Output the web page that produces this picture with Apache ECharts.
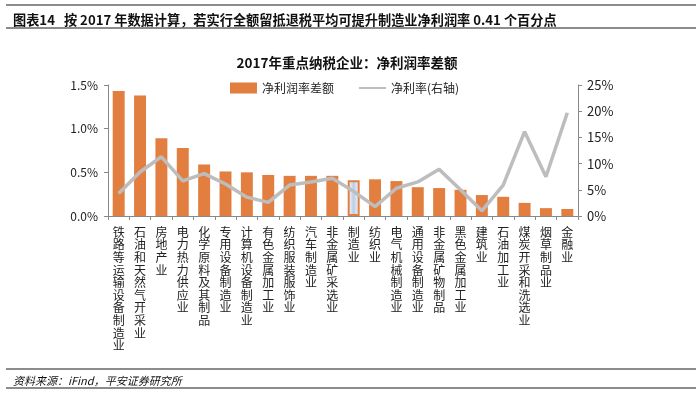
<!DOCTYPE html>
<html><head><meta charset="utf-8">
<script src="https://cdn.jsdelivr.net/npm/echarts@6/dist/echarts.min.js"></script>
<style>html,body{margin:0;padding:0;background:#fff}#c{width:700px;height:393px}</style>
</head><body><div id="c"></div>
<script>
const categories = ['铁路等运输设备制造业','石油和天然气开采业','房地产业','电力热力供应业','化学原料及其制品','专用设备制造业','计算机设备制造业','有色金属加工业','纺织服装服饰业','汽车制造业','非金属矿采选业','制造业','纺织业','电气机械制造业','通用设备制造业','非金属矿物制品','黑色金属加工业','建筑业','石油加工业','煤炭开采和洗选业','烟草制品业','金融业'];
const spreadValues = [1.43,1.38,0.89,0.78,0.59,0.51,0.50,0.47,0.46,0.46,0.46,0.41,0.42,0.40,0.33,0.32,0.30,0.24,0.22,0.15,0.09,0.08];
const netMarginValues = [4.3,8.4,11.3,6.7,8.1,6.1,3.6,2.6,5.9,6.5,7.2,4.7,1.8,5.3,6.5,8.9,5.0,1.0,5.9,16.1,7.5,19.7];
const leftTicks = [0,0.5,1.0,1.5];
const rightTicks = [0,5,10,15,20,25];
const highlightCategory = '制造业';

const FONT = '"Noto Sans CJK SC", "Noto Sans", sans-serif';
const chart = echarts.init(document.getElementById('c'), null, {renderer:'canvas'});
const barData = spreadValues.map((v,i)=> categories[i]===highlightCategory ? {
  value: v,
  itemStyle: {
    color: new echarts.graphic.LinearGradient(0,0,1,0,[{offset:0,color:'#ffffff'},{offset:0.5,color:'#b9cde6'},{offset:1,color:'#ffffff'}]),
    borderColor: '#E27F40', borderWidth: 2
  }
} : v);

chart.setOption({
  animation:false,
  textStyle:{fontFamily:FONT},
  title:[
    {text:'图表14   按 2017 年数据计算，若实行全额留抵退税平均可提升制造业净利润率 0.41 个百分点', left:8, top:8,
      textStyle:{fontSize:13.2, fontWeight:'bold', color:'#111', fontFamily:FONT}},
    {text:'2017年重点纳税企业：净利润率差额', left:342, textAlign:'center', top:51,
      textStyle:{fontSize:13.5, fontWeight:'bold', color:'#111', fontFamily:FONT}},
    {text:'资料来源：iFind，平安证券研究所', left:8, top:370,
      textStyle:{fontSize:11, fontWeight:'normal', fontStyle:'italic', color:'#111', fontFamily:FONT}}
  ],
  graphic:[
    {type:'line', shape:{x1:6,y1:5,x2:696,y2:5}, style:{stroke:'#666', lineWidth:1.5}},
    {type:'line', shape:{x1:6,y1:28,x2:696,y2:28}, style:{stroke:'#666', lineWidth:1.5}},
    {type:'line', shape:{x1:6,y1:369,x2:696,y2:369}, style:{stroke:'#666', lineWidth:1.5}},
    {type:'line', shape:{x1:6,y1:388,x2:696,y2:388}, style:{stroke:'#666', lineWidth:1.5}}
  ],
  legend:{
    top:77, left:225, itemGap:24, itemWidth:27, itemHeight:11,
    textStyle:{fontSize:12, color:'#222', fontFamily:FONT},
    data:[{name:'净利润率差额', icon:'rect'}, {name:'净利率(右轴)', itemStyle:{opacity:0}}]
  },
  grid:{left:108, right:122, top:85, bottom:177, containLabel:false},
  xAxis:{
    type:'category', data:categories,
    axisLine:{lineStyle:{color:'#888', width:1}},
    axisTick:{show:true, alignWithLabel:false, length:4, lineStyle:{color:'#888'}},
    axisLabel:{interval:0, margin:10, fontSize:12, lineHeight:12.6, color:'#222', fontFamily:FONT, verticalAlign:'top',
      formatter:(s)=>s.split('').join('\n')}
  },
  yAxis:[
    {type:'value', min:0, max:1.5, interval:0.5, position:'left',
      axisLine:{show:true, lineStyle:{color:'#888'}},
      axisTick:{show:true, length:4, lineStyle:{color:'#888'}},
      splitLine:{show:false},
      axisLabel:{fontSize:12, color:'#222', margin:10, fontFamily:FONT, formatter:(v)=>v.toFixed(1)+'%'}},
    {type:'value', min:0, max:25, interval:5, position:'right',
      axisLine:{show:true, lineStyle:{color:'#888'}},
      axisTick:{show:true, length:4, lineStyle:{color:'#888'}},
      splitLine:{show:false},
      axisLabel:{fontSize:13, color:'#222', margin:9, fontFamily:FONT, formatter:(v)=>v+'%'}}
  ],
  series:[
    {name:'净利润率差额', type:'bar', yAxisIndex:0, data:barData, barWidth:'56%',
      itemStyle:{color:'#E27F40'}},
    {name:'净利率(右轴)', type:'line', yAxisIndex:1, data:netMarginValues, showSymbol:false, symbol:'none',
      lineStyle:{color:'#BDBDBD', width:3.5}, itemStyle:{color:'#BDBDBD'}, z:3}
  ]
});
</script></body></html>
